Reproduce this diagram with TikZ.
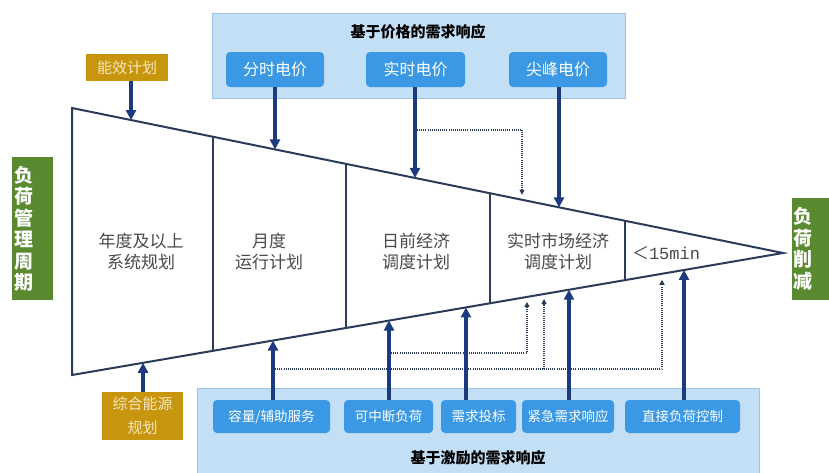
\documentclass[tikz,border=0pt]{standalone}
\usepackage{fontspec}
\setmainfont{Noto Sans CJK SC}
\newfontfamily\monof{Liberation Mono}
\usetikzlibrary{arrows.meta,calc}
\definecolor{panelfill}{HTML}{C3DFF6}
\definecolor{panelborder}{HTML}{9DC4E8}
\definecolor{btnblue}{HTML}{3A98E4}
\definecolor{goldc}{HTML}{C8950E}
\definecolor{goldtext}{HTML}{F6E7BE}
\definecolor{greenc}{HTML}{5A8A30}
\definecolor{navy}{HTML}{1C3A80}
\definecolor{linec}{HTML}{2B3C5A}
\definecolor{textgray}{HTML}{4A4A4A}
\begin{document}
\begin{tikzpicture}[x=1pt,y=-1pt,
  panel/.style={draw=panelborder, fill=panelfill, line width=0.8pt, inner sep=0pt},
  btn/.style={fill=btnblue, rounded corners=4pt, text=white, inner sep=0pt},
  btntop/.style={btn, minimum height=35pt, font=\fontsize{16}{18}\selectfont},
  btnbot/.style={btn, minimum height=33pt, font=\fontsize{13.5}{16}\selectfont},
  goldbox/.style={fill=goldc, text=goldtext, inner sep=0pt, align=center, font=\fontsize{15}{24}\selectfont},
  greenbox/.style={fill=greenc, inner sep=0pt},
  greentext/.style={text=white, align=center, inner sep=0pt, font=\fontsize{19}{21.5}\selectfont\bfseries},
  paneltitle/.style={text=black, inner sep=0pt, font=\fontsize{15}{17}\selectfont\bfseries},
  stage/.style={text=textgray, align=center, inner sep=0pt, font=\fontsize{17}{21}\selectfont},
  funnel/.style={draw=linec, line width=2pt, line join=miter},
  divider/.style={draw=linec, line width=1.6pt},
  bigarrow/.style={draw=navy, line width=3.2pt, -{Triangle[length=10pt,width=10pt]}},
  dotarrow/.style={draw=linec, line width=1.3pt, dash pattern=on 1pt off 1.1pt, -{Triangle[length=5pt,width=5pt]}}
]
\useasboundingbox (0,0) rectangle (829,472);
\fill[white] (0,0) rectangle (829,472);

% panels
\node[panel, minimum width=413pt, minimum height=85pt] (pricepanel) at (418.5,55.5) {};
\node[panel, minimum width=562pt, minimum height=92pt] (incpanel) at (478,434) {};
\node[paneltitle] (pricetitle) at (418,32) {基于价格的需求响应};
\node[paneltitle] (inctitle) at (478,458) {基于激励的需求响应};

% funnel
\coordinate (TL) at (72,108);
\coordinate (BL) at (72,375);
\coordinate (TIP) at (783,253);
\foreach \f [count=\i] in {0.1983,0.3854,0.5879,0.7778}{
  \coordinate (dt\i) at ($(TL)!\f!(TIP)$);
  \coordinate (db\i) at ($(BL)!\f!(TIP)$);
  \draw[divider] (dt\i) -- (db\i);
}
\draw[funnel] (TL) -- (TIP) -- (BL) -- cycle;

% points on top line
\coordinate (pT1) at ($(TL)!0.0830!(TIP)$);
\coordinate (pT2) at ($(TL)!0.2855!(TIP)$);
\coordinate (pT3) at ($(TL)!0.4824!(TIP)$);
\coordinate (pT4) at ($(TL)!0.6329!(TIP)$);
\coordinate (pT5) at ($(TL)!0.6850!(TIP)$);
% points on bottom line
\coordinate (pB1) at ($(BL)!0.0999!(TIP)$);
\coordinate (pB2) at ($(BL)!0.2827!(TIP)$);
\coordinate (pB3) at ($(BL)!0.4459!(TIP)$);
\coordinate (pB4) at ($(BL)!0.5541!(TIP)$);
\coordinate (pB5) at ($(BL)!0.6399!(TIP)$);
\coordinate (pB6) at ($(BL)!0.6639!(TIP)$);
\coordinate (pB7) at ($(BL)!0.6990!(TIP)$);
\coordinate (pB8) at ($(BL)!0.8298!(TIP)$);
\coordinate (pB9) at ($(BL)!0.8608!(TIP)$);

% stage texts
\node[stage] (s1) at (141,251.5) {年度及以上\\系统规划};
\node[stage] (s2) at (269,251.5) {月度\\运行计划};
\node[stage] (s3) at (416,251.5) {日前经济\\调度计划};
\node[stage] (s4) at (558,251.5) {实时市场经济\\调度计划};
\node[stage] (s5) at (666,253) {＜{\monof 15min}};

% side boxes
\node[greenbox, minimum width=41pt, minimum height=143pt] (leftg) at (32.5,228.5) {};
\node[greentext] (leftt) at (24,229) {负\\荷\\管\\理\\周\\期};
\node[greenbox, minimum width=43pt, minimum height=102pt] (rightg) at (813.5,249) {};
\node[greentext] (rightt) at (803,249) {负\\荷\\削\\减};

% gold boxes
\node[goldbox, minimum width=82pt, minimum height=27pt] (nxjh) at (127,67.5) {能效计划};
\node[goldbox, minimum width=81pt, minimum height=48pt] (zhny) at (142.5,416) {综合能源\\规划};

% price buttons
\node[btntop, minimum width=98pt] (fsdj) at (275,69.5) {分时电价};
\node[btntop, minimum width=99pt] (ssdj) at (415.5,69.5) {实时电价};
\node[btntop, minimum width=98pt] (jfdj) at (558,69.5) {尖峰电价};

% incentive buttons
\node[btnbot, minimum width=117pt] (rl) at (271.5,416.5) {容量/辅助服务};
\node[btnbot, minimum width=89pt] (kzd) at (388.5,416.5) {可中断负荷};
\node[btnbot, minimum width=75pt] (xqtb) at (478.5,416.5) {需求投标};
\node[btnbot, minimum width=92pt] (jjxq) at (568,416.5) {紧急需求响应};
\node[btnbot, minimum width=115pt] (zjfh) at (682.5,416.5) {直接负荷控制};

% dotted connectors
\coordinate (d3a) at (pT3 |- 0,130);
\draw[dotarrow, shorten >=5pt] (d3a) -| (pT4);
\coordinate (d1a) at (pB3 |- 0,353);
\draw[dotarrow, shorten >=5pt] (d1a) -| (pB5);
\coordinate (d2a) at (pB2 |- 0,369);
\draw[dotarrow, shorten >=6pt] (d2a) -| (pB8);
\coordinate (d2b) at (pB6 |- d2a);
\draw[dotarrow, shorten >=5pt] (d2b) -- (pB6);

% solid arrows
\draw[bigarrow] (nxjh.south -| pT1) -- (pT1);
\draw[bigarrow] (fsdj.south -| pT2) -- (pT2);
\draw[bigarrow] (ssdj.south -| pT3) -- (pT3);
\draw[bigarrow] (jfdj.south -| pT5) -- (pT5);
\draw[bigarrow] (zhny.north -| pB1) -- (pB1);
\draw[bigarrow] (rl.north -| pB2) -- (pB2);
\draw[bigarrow] (kzd.north -| pB3) -- (pB3);
\draw[bigarrow] (xqtb.north -| pB4) -- (pB4);
\draw[bigarrow] (jjxq.north -| pB7) -- (pB7);
\draw[bigarrow] (zjfh.north -| pB9) -- (pB9);
\end{tikzpicture}
\end{document}
